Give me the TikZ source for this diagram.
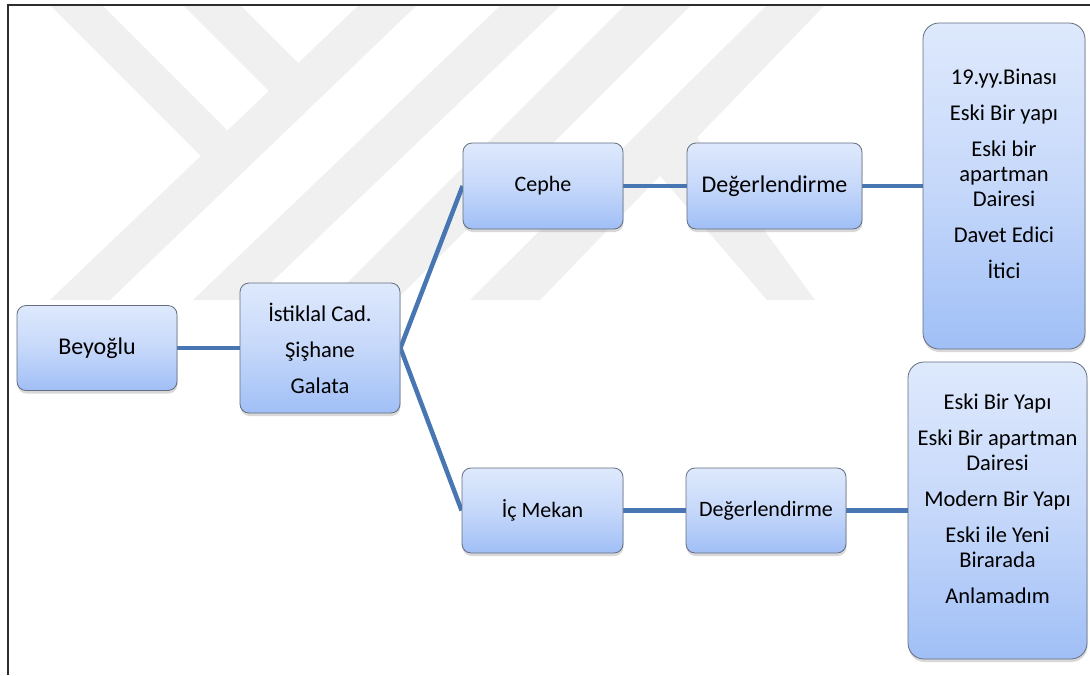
\documentclass[tikz,border=0pt]{standalone}
\usepackage{fontspec}
\setmainfont{Carlito}
\usetikzlibrary{shadows,backgrounds}
\definecolor{boxtop}{RGB}{222,233,252}
\definecolor{boxmid}{RGB}{198,216,250}
\definecolor{boxbot}{RGB}{160,191,246}
\definecolor{boxline}{RGB}{100,110,128}
\definecolor{wirecol}{RGB}{72,118,178}
\definecolor{wmark}{RGB}{240,240,240}
\definecolor{framec}{RGB}{45,45,45}
\begin{document}
\begin{tikzpicture}[x=1pt,y=-1pt,
  box/.style={draw=boxline, line width=0.8pt, rounded corners=9pt,
    top color=boxtop, bottom color=boxbot, middle color=boxmid,
    drop shadow={shadow xshift=0.5pt, shadow yshift=-3pt, opacity=0.3},
    inner sep=0pt, align=center, text=black},
  tallbox/.style={box, rounded corners=16pt},
  small/.style={font=\fontsize{22.5}{25}\selectfont},
  big/.style={font=\fontsize{24}{28}\selectfont},
  txt/.style={align=center, inner sep=0pt, text=black, font=\fontsize{22.5}{25}\selectfont},
  wire/.style={draw=wirecol, line width=4.5pt},
  wm/.style={fill=wmark}
]
\useasboundingbox (0,0) rectangle (1090,675);

% boxes
\node[box, big, minimum width=160pt, minimum height=85pt] (beyoglu) at (97,348) {Beyoğlu};
\node[box, small, minimum width=160pt, minimum height=130pt] (istiklal) at (320,348) {İstiklal Cad.\\[11pt]Şişhane\\[11pt]Galata};
\node[box, font=\fontsize{22}{26}\selectfont, minimum width=160pt, minimum height=86pt] (cephe) at (543,186) {Cephe};
\node[box, big, minimum width=175pt, minimum height=86pt] (deg1) at (774.5,186) {Değerlendirme};
\node[tallbox, minimum width=162pt, minimum height=326pt] (r1) at (1004,186) {};
\node[txt] (r1t) at (1004,174) {19.yy.Binası\\[11pt]Eski Bir yapı\\[11pt]Eski bir\\apartman\\Dairesi\\[11pt]Davet Edici\\[11pt]İtici};
\node[box, font=\fontsize{22}{26}\selectfont, minimum width=161pt, minimum height=85pt] (icmekan) at (542.5,510.5) {İç Mekan};
\node[box, font=\fontsize{22}{26}\selectfont, minimum width=160pt, minimum height=85pt] (deg2) at (766,510.5) {Değerlendirme};
\node[tallbox, minimum width=179pt, minimum height=297pt] (r2) at (997.5,510.5) {};
\node[txt] (r2t) at (997.5,498.5) {Eski Bir Yapı\\[11pt]Eski Bir apartman\\Dairesi\\[11pt]Modern Bir Yapı\\[11pt]Eski ile Yeni\\Birarada\\[11pt]Anlamadım};

\begin{pgfonlayer}{background}
  \fill[white] (0,0) rectangle (1090,675);
  % watermark
  \fill[wm] (50,5) -- (102,5) -- (230.5,133.5) -- (204.5,159.5) -- cycle;
  \fill[wm] (183,5) -- (240,5) -- (299.5,64.5) -- (271,93) -- cycle;
  \fill[wm] (359,5) -- (417,5) -- (110,300) -- (50,300) -- cycle;
  \fill[wm] (501,5) -- (561,5) -- (253,300) -- (193,300) -- cycle;
  \fill[wm] (625,5) -- (691,5) -- (396,300) -- (330,300) -- cycle;
  \fill[wm] (767,5) -- (825,5) -- (540,300) -- (470,300) -- cycle;
  \fill[wm] (655,170) -- (690,128) -- (815,300) -- (767,300) -- cycle;
  % frame
  \draw[framec, line width=1.5pt] (8,675) -- (8,5) -- (1090,5);
  % connectors
  \draw[wire] (beyoglu.east) -- (istiklal.west);
  \draw[wire] (istiklal.east) -- (cephe.west);
  \draw[wire] (istiklal.east) -- (icmekan.west);
  \draw[wire] (cephe.east) -- (deg1.west);
  \draw[wire] (deg1.east) -- (r1.west);
  \draw[wire] (icmekan.east) -- (deg2.west);
  \draw[wire] (deg2.east) -- (r2.west);
\end{pgfonlayer}
\end{tikzpicture}
\end{document}
